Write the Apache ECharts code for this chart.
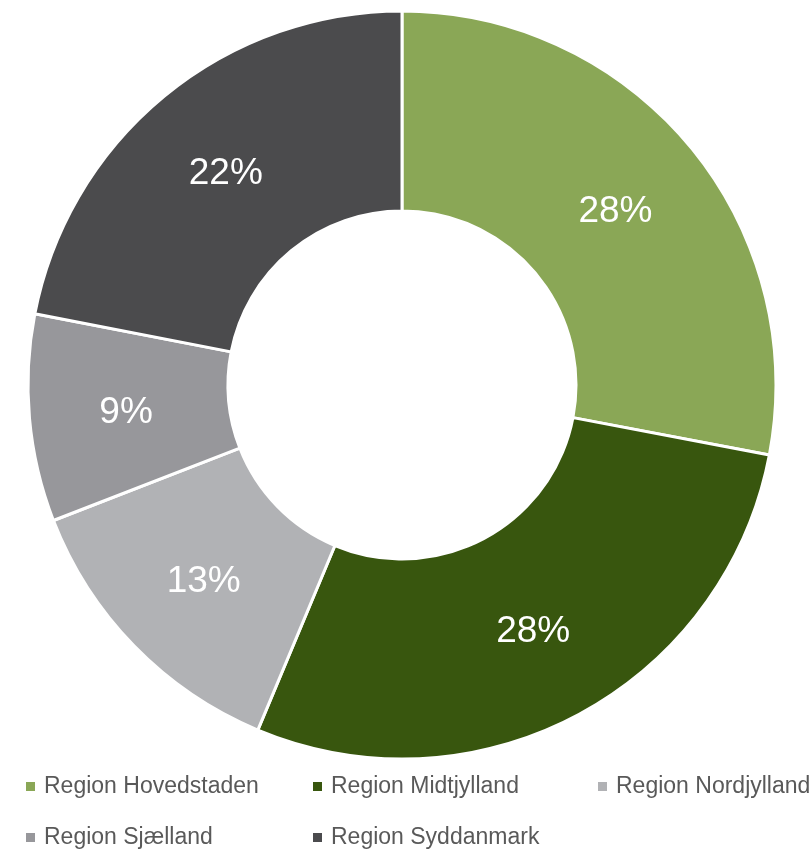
<!DOCTYPE html>
<html>
<head>
<meta charset="utf-8">
<script src="https://cdn.jsdelivr.net/npm/echarts@6/dist/echarts.min.js"></script>
<style>
  html, body { margin: 0; padding: 0; background: #fff; }
  #chart { width: 810px; height: 849px; }
</style>
</head>
<body>
<div id="chart"></div>
<script>
// regioner og andele (%)
var regions = ["Region Hovedstaden", "Region Midtjylland", "Region Nordjylland", "Region Sjælland", "Region Syddanmark"];
var shares = [28.0, 28.3, 12.8, 8.95, 21.95];
var colors = ["#8aa756", "#38560e", "#b1b2b5", "#97979b", "#4b4b4d"];

// legend placement: one legend per item so columns line up
var legendPos = [
    { left: 26, top: 775 },
    { left: 313, top: 775 },
    { left: 598, top: 775 },
    { left: 26, top: 826 },
    { left: 313, top: 826 }
];

var myChart = echarts.init(document.getElementById("chart"));

var pieData = regions.map(function (name, i) {
    return { name: name, value: shares[i], itemStyle: { color: colors[i] } };
});

var legends = regions.map(function (name, i) {
    return {
        data: [name],
        left: legendPos[i].left,
        top: legendPos[i].top,
        padding: 0,
        icon: "rect",
        itemWidth: 9,
        itemHeight: 9,
        itemGap: 0,
        itemStyle: { borderWidth: 0 },
        selectedMode: false,
        textStyle: {
            fontFamily: "Liberation Sans, Arial",
            fontSize: 23,
            color: "#595959",
            padding: [0, 0, 0, 4]
        }
    };
});

var option = {
    animation: false,
    backgroundColor: "#fff",
    legend: legends,
    series: [
        {
            type: "pie",
            center: [402, 385],
            radius: [174, 374],
            startAngle: 90,
            clockwise: true,
            data: pieData,
            itemStyle: {
                borderColor: "#fff",
                borderWidth: 3
            },
            label: {
                show: true,
                position: "inside",
                formatter: function (p) { return Math.round(p.value) + "%"; },
                color: "#fff",
                fontFamily: "Liberation Sans, Arial",
                fontSize: 37,
                offset: [0, 3],
                textBorderWidth: 0
            },
            labelLine: { show: false },
            emphasis: { disabled: true }
        }
    ]
};

myChart.setOption(option);
</script>
</body>
</html>
